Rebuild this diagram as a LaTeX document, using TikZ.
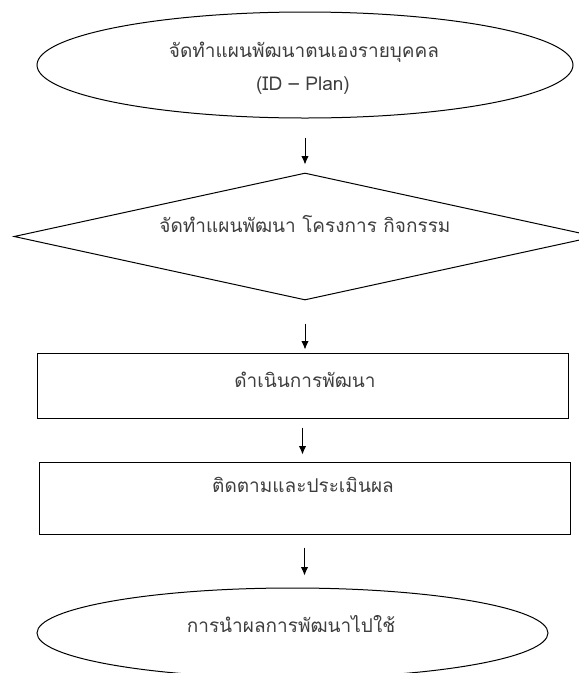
\documentclass[tikz,border=0pt]{standalone}
\usepackage{fontspec}
\newfontfamily\thaifont[Script=Thai]{Loma}
\usetikzlibrary{shapes.geometric,arrows.meta,calc}
\definecolor{txtgray}{RGB}{62,62,62}
\tikzset{
  shape line/.style={draw=black, line width=1pt, inner sep=0pt},
  stage text/.style={text=txtgray, font=\thaifont\fontsize{19}{22}\selectfont},
  flow arrow/.style={-{Latex[length=8.5pt,width=7.5pt]}, line width=1pt}
}

\begin{document}
\begin{tikzpicture}[x=1pt,y=-1pt]
         \useasboundingbox (0,0) rectangle (579,673);
         \node[shape line, ellipse, minimum width=536pt, minimum height=106pt] (plan) at (305,65) {};
         \node[shape line, diamond, minimum width=582pt, minimum height=127pt] (project) at (305,236.5) {};
         \node[shape line, rectangle, minimum width=531pt, minimum height=65pt] (act) at (302.5,385.5) {};
         \node[shape line, rectangle, minimum width=531pt, minimum height=72pt] (track) at (304.5,498) {};
         \node[shape line, ellipse, minimum width=511pt, minimum height=90pt] (use) at (292.5,633) {};
         \node[stage text, anchor=base] (plan1) at (304,57) {จัดทำแผนพัฒนาตนเองรายบุคคล};
         \node[stage text, anchor=base] (plan2) at (303,90) {(ID – Plan)};
         \node[stage text, anchor=base] (projecttext) at (305,232) {จัดทำแผนพัฒนา โครงการ กิจกรรม};
         \node[stage text, anchor=base] (acttext) at (305,387) {ดำเนินการพัฒนา};
         \node[stage text, anchor=base] (tracktext) at (303,492) {ติดตามและประเมินผล};
         \node[stage text, anchor=base] (usetext) at (291,632) {การนำผลการพัฒนาไปใช้};
         \foreach \a/\b/\ga/\gb in {plan/project/19/8, project/act/23/3, act/track/9/7, track/use/13/12} {
            \draw[flow arrow] ([yshift=-\ga pt]\a.south) -- ($(\a.south |- \b.north)+(0,-\gb)$);
         }
      \end{tikzpicture}
\end{document}
